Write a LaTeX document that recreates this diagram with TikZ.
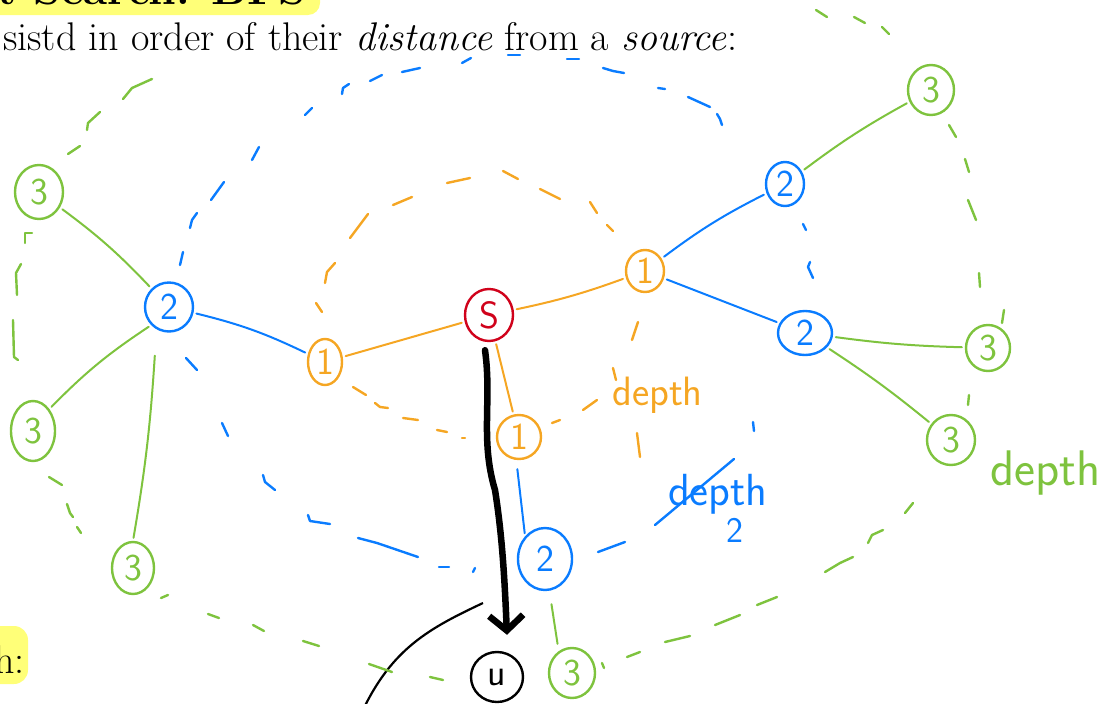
\documentclass[tikz,border=0pt]{standalone}
\usepackage{fontspec}
\usetikzlibrary{shapes.geometric,arrows.meta}
\definecolor{cred}{RGB}{208,2,27}
\definecolor{corange}{RGB}{245,166,35}
\definecolor{cblue}{RGB}{10,124,255}
\definecolor{cgreen}{RGB}{126,195,62}
\definecolor{chl}{RGB}{255,255,120}
\begin{document}
\begin{tikzpicture}[x=1pt,y=-1pt,
 vtx/.style={ellipse, draw, line width=2.4pt, inner sep=0pt, font=\sffamily\fontsize{38}{38}\selectfont},
 v0/.style={vtx, draw=cred, text=cred},
 v1/.style={vtx, draw=corange, text=corange},
 v2/.style={vtx, draw=cblue, text=cblue},
 v3/.style={vtx, draw=cgreen, text=cgreen},
 vu/.style={vtx, draw=black, text=black},
 eg/.style={line width=2pt, line cap=round, shorten <=3pt, shorten >=3pt},
 e1/.style={eg, corange},
 e2/.style={eg, cblue},
 e3/.style={eg, cgreen},
 dsh/.style={line width=2.4pt, line cap=round, line join=round},
 lbl/.style={font=\sffamily\fontsize{45}{45}\selectfont, inner sep=0pt},
 txt/.style={font=\fontsize{40}{48}\selectfont, inner sep=0pt},
]
\clip (0,0) rectangle (1111,704);
% text and highlights
\fill[chl, rounded corners=12pt] (-20,-40) rectangle (320,15);
\node[txt, anchor=base east, font=\bfseries\fontsize{44}{50}\selectfont] (head) at (306,5) {rst Search: BFS};
\node[txt, anchor=base west] (line) at (3,50) {sistd in order of their \textit{distance} from a \textit{source}:};
\fill[chl, rounded corners=14pt] (-20,626) rectangle (28,684);
\node[txt, anchor=base east] (hh) at (25,673) {h:};

% vertices
\node[v0, minimum width=48pt, minimum height=52pt] (S) at (489,315) {S};
\node[v1, minimum width=38pt, minimum height=42pt] (o1) at (645,271) {1};
\node[v1, minimum width=34pt, minimum height=46pt] (o2) at (325,362) {1};
\node[v1, minimum width=44pt, minimum height=44pt] (o3) at (519,437) {1};
\node[v2, minimum width=48pt, minimum height=49pt] (b1) at (169,307) {2};
\node[v2, minimum width=38pt, minimum height=44pt] (b2) at (785,184) {2};
\node[v2, minimum width=54pt, minimum height=44pt] (b3) at (805,333) {2};
\node[v2, minimum width=54pt, minimum height=62pt] (b4) at (545,559) {2};
\node[v3, minimum width=48pt, minimum height=54pt] (g1) at (39,192) {3};
\node[v3, minimum width=44pt, minimum height=60pt] (g2) at (33,431) {3};
\node[v3, minimum width=42pt, minimum height=52pt] (g3) at (133,568) {3};
\node[v3, minimum width=46pt, minimum height=50pt] (g4) at (931,90) {3};
\node[v3, minimum width=44pt, minimum height=46pt] (g5) at (988,348) {3};
\node[v3, minimum width=48pt, minimum height=50pt] (g6) at (951,440) {3};
\node[v3, minimum width=46pt, minimum height=50pt] (g7) at (572,673) {3};
\node[vu, minimum width=52pt, minimum height=50pt] (u) at (497,677) {u};

% labels
\node[lbl, text=corange, anchor=base west, font=\sffamily\fontsize{41}{41}\selectfont] (dO) at (612,405) {depth};
\node[lbl, text=cblue, anchor=base west] (dB) at (668,505) {depth};
\node[lbl, text=cblue, font=\sffamily\fontsize{36}{36}\selectfont] (dB2) at (735,530) {2};
\node[lbl, text=cgreen, anchor=base west, font=\sffamily\fontsize{50}{50}\selectfont] (dG) at (990,485) {depth};

% tree edges
\draw[e1] (S) to[bend right=4] (o1);
\draw[e1] (S) -- (o2);
\draw[e1] (S) -- (o3);
\draw[e2] (o1) to[bend left=5] (b2);
\draw[e2] (o1) -- (b3);
\draw[e2] (b1) to[bend left=6] (o2);
\draw[e2] ([shift={(-2,6)}]o3.south) -- (b4.north west);
\draw[e3] (b1) to[bend right=5] (g1);
\draw[e3] (b1.south west) to[bend right=6] (g2.north east);
\draw[e3] ([shift={(-14,20)}]b1.south) to[bend left=3] (g3.north);
\draw[e3] (b2) to[bend left=4] (g4);
\draw[e3] (b3) to[bend right=3] (g5);
\draw[e3] (b3) to[bend left=3] (g6);
\draw[e3] ([shift={(6,10)}]b4.south) -- ([shift={(-14,0)}]g7.north);

% path to u
\draw[line width=6.5pt, line cap=round, line join=round, -{Straight Barb[length=15pt,width=34pt]}]
  ([shift={(-4,8)}]S.south) .. controls (492,400) and (480,440) .. (495,490)
  .. controls (503,540) and (505,590) .. ([shift={(10,-16)}]u.north);
\coordinate (t1) at (483,603);
\coordinate (t2) at (362,712);
\draw[line width=2.2pt] (t1) .. controls (430,628) and (392,648) .. (t2);

% depth 1 contour
\begin{scope}[dsh, corange]
\draw (316,303)--(322,312);
\draw (335,263)--(327,272)--(325,283);
\draw (350,238)--(368,214);
\draw (393,205)--(412,197);
\draw (447,183)--(470,178);
\draw (503,171)--(518,179);
\draw (540,189)--(560,199);
\draw (590,202)--(597,213);
\draw (607,225)--(613,231);
\draw (353,387)--(366,395);
\draw (375,403)--(380,407)--(388,408);
\draw (403,418)--(418,420);
\draw (437,430)--(447,432);
\draw (462,438)--(465,438);
\draw (552,423)--(560,420);
\draw (583,410)--(597,400);
\draw (638,322)--(632,340);
\draw (613,368)--(616,380);
\draw (637,433)--(640,457);
\end{scope}

% depth 2 contour
\begin{scope}[dsh, cblue]
\draw (180,265)--(183,252);
\draw (190,228)--(192,220)--(197,213);
\draw (211,200)--(224,182);
\draw (252,160)--(259,147);
\draw (305,115)--(312,108);
\draw (342,94)--(343,88)--(349,84);
\draw (370,81)--(382,75);
\draw (402,72)--(420,68);
\draw (462,63)--(471,58);
\draw (508,55)--(520,55);
\draw (567,59)--(579,59);
\draw (603,68)--(613,71)--(624,73);
\draw (658,88)--(665,89);
\draw (688,97)--(710,107);
\draw (717,114)--(720,119)--(722,125);
\draw (803,224)--(806,230);
\draw (810,262)--(808,267)--(813,278);
\draw (753,422)--(754,431);
\draw (655,525)--(734,459);
\draw (598,552)--(625,542);
\draw (186,358)--(197,370);
\draw (222,423)--(228,436);
\draw (263,475)--(265,482)--(275,490);
\draw (308,515)--(310,521)--(330,524);
\draw (358,538)--(377,543)--(418,557);
\draw (439,567)--(449,567);
\draw (473,572)--(475,568);
\end{scope}

% depth 3 contour
\begin{scope}[dsh, cgreen]
\draw (123,99)--(132,88)--(152,79);
\draw (87,130)--(88,123)--(100,112);
\draw (68,154)--(80,146);
\draw (25,243)--(25,233)--(32,233);
\draw (21,264)--(16,273)--(17,295);
\draw (13,320)--(14,357)--(18,360);
\draw (49,477)--(62,485);
\draw (67,504)--(70,513)--(73,517);
\draw (77,527)--(81,533);
\draw (161,598)--(168,595);
\draw (208,614)--(219,618);
\draw (253,625)--(264,631);
\draw (303,641)--(319,646);
\draw (369,664)--(392,672);
\draw (430,677)--(443,680);
\draw (602,663)--(604,668);
\draw (627,657)--(640,652);
\draw (665,642)--(690,636);
\draw (715,625)--(740,615);
\draw (757,605)--(777,597);
\draw (825,572)--(840,563)--(853,557);
\draw (868,543)--(872,535)--(883,530);
\draw (905,513)--(913,503);
\draw (968,405)--(969,395);
\draw (1004,310)--(1002,323);
\draw (979,273)--(980,287);
\draw (976,220)--(968,200);
\draw (969,172)--(965,159);
\draw (956,137)--(949,125);
\draw (889,34)--(882,27);
\draw (865,23)--(854,17);
\draw (827,17)--(816,10);
\end{scope}
\end{tikzpicture}
\end{document}
